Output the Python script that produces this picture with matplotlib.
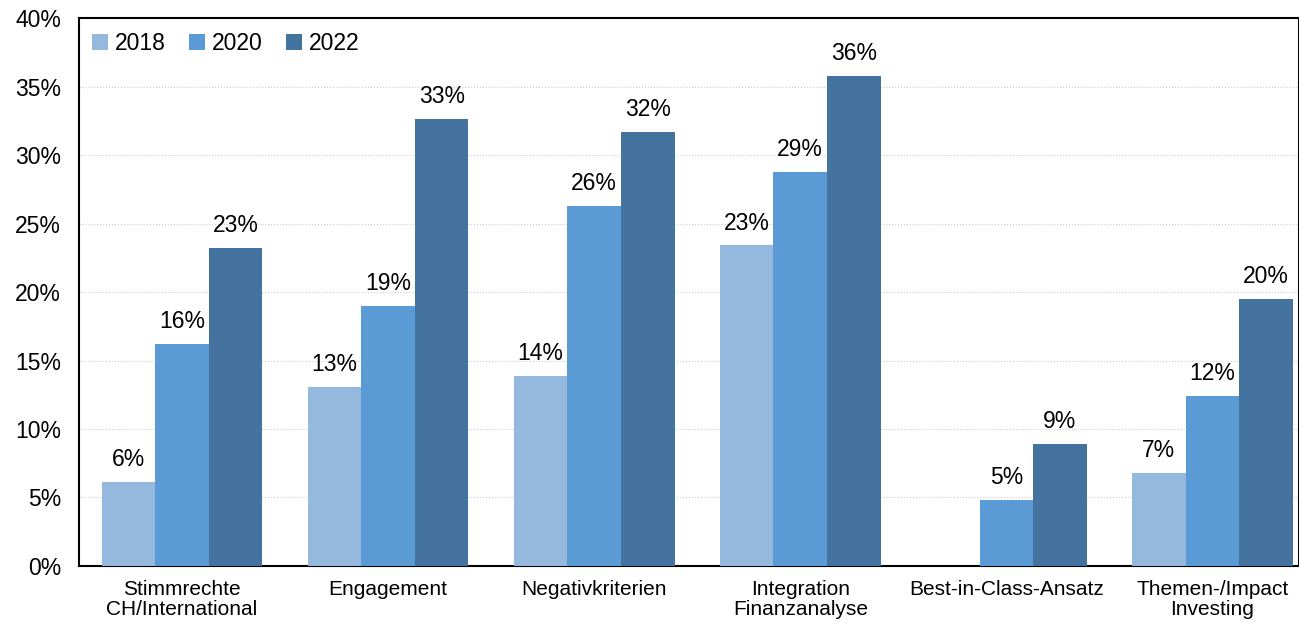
import numpy as np
import matplotlib.pyplot as plt

plt.rcParams['font.family'] = ['Liberation Sans', 'DejaVu Sans']

categories = ['Stimmrechte\nCH/International', 'Engagement', 'Negativkriterien',
              'Integration\nFinanzanalyse', 'Best-in-Class-Ansatz', 'Themen-/Impact\nInvesting']
years = ['2018', '2020', '2022']
v2018 = [6.1, 13.1, 13.9, 23.4, np.nan, 6.8]
v2020 = [16.2, 19.0, 26.3, 28.8, 4.8, 12.4]
v2022 = [23.2, 32.6, 31.7, 35.8, 8.9, 19.5]
colors = ['#95B8DF', '#5B9BD5', '#44739F']

fig = plt.figure(figsize=(12.99, 6.24), dpi=100)
ax = fig.add_axes([0.0608, 0.093, 0.9392, 0.878])

x = np.arange(len(categories))
w = 0.26
for i, (vals, yr, c) in enumerate(zip([v2018, v2020, v2022], years, colors)):
    pos = x + (i - 1) * w
    vv = np.array(vals, dtype=float)
    ax.bar(pos, np.nan_to_num(vv), w, color=c, label=yr, zorder=3)
    for p, v in zip(pos, vv):
        if not np.isnan(v):
            ax.text(p, v + 0.8, f'{round(v + 1e-9):.0f}%', ha='center', va='bottom', fontsize=16.5)

ax.set_ylim(0, 40)
ax.set_xlim(-0.5, 5.42)
ax.set_yticks(range(0, 41, 5))
ax.set_yticklabels([f'{t}%' for t in range(0, 41, 5)], fontsize=16.5)
ax.set_xticks(x)
ax.set_xticklabels(categories, fontsize=15, linespacing=1.1)
ax.tick_params(axis='y', length=0, pad=13)
ax.tick_params(axis='x', length=0, pad=10)
ax.yaxis.grid(True, linestyle=':', color='#cccccc', linewidth=0.8, zorder=0)
for s in ax.spines.values():
    s.set_linewidth(1.5)
ax.legend(loc='upper left', frameon=False, fontsize=16.5, ncol=3, handlelength=0.7,
          handleheight=0.7, columnspacing=1.0, handletextpad=0.3,
          bbox_to_anchor=(-0.006, 1.013))

fig.savefig('out.png', dpi=100)
